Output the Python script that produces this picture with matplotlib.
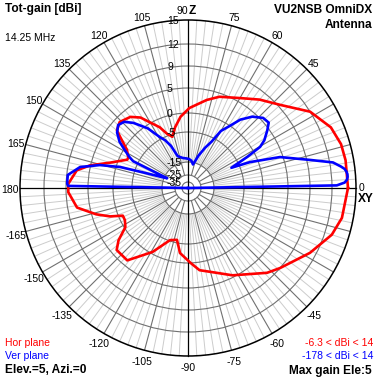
import numpy as np
import matplotlib.pyplot as plt
from matplotlib.patches import Circle

plt.rcParams['font.family'] = ['Liberation Sans', 'DejaVu Sans']

# chart scale: ring value (dBi) -> radius in px
ring_db = [-35, -25, -15, -5, 0, 5, 9, 12, 15]
ring_r = [6, 13, 26, 56, 75, 100, 122, 144, 168]

# horizontal plane (azimuth, deg) and gain (dBi)
hor_ang = [0, 10, 16, 23, 32, 42, 51, 60, 71, 78, 89, 96, 102, 107, 111, 115,
           124, 129, 136, 141, 143, 148, 153, 155, 162, 167, 171, 178, 182,
           190, 196, 200, 203, 207, 212, 217, 221, 230, 241, 251, 258, 263,
           272, 278, 288, 297, 313, 319, 332, 342, 349, 360]
hor_db = [14.0, 14.0, 13.9, 13.4, 12.0, 9.3, 7.5, 5.7, 4.3, 3.0, 1.0, -0.9,
          -3.4, -5.8, -4.5, -2.1, 2.0, 3.3, 4.0, 3.3, 2.0, -0.8, -2.1, -2.1,
          1.4, 5.1, 7.3, 8.6, 8.6, 7.3, 4.1, 1.6, -1.1, -1.1, -0.3, 2.4, 3.9,
          3.9, -0.5, -5.3, -6.0, -2.5, 0.0, 1.6, 2.8, 4.6, 7.9, 9.0, 11.2,
          12.9, 13.6, 14.0]

# vertical plane (elevation, deg) and gain (dBi)
ver_ang = [0, 1, 2, 3, 4, 5, 6, 7, 8, 10, 13, 18.6, 22.7, 25, 27.7, 29.7, 32,
           36, 39, 43, 48, 52.6, 56, 60, 63, 67, 72, 78, 83, 88, 93, 100, 108,
           112, 115.6, 118.8, 124, 130, 134, 138, 142, 146, 149, 152, 154, 155,
           157.8, 160.8, 162.8, 165.4, 169, 173.8, 176, 178, 179, 180]
ver_db = [-178, 12.6, 13.6, 13.9, 14.0, 14.0, 13.9, 13.7, 13.3, 12.4, 9.4, 4.4,
          -2.1, -7.7, -2.1, 1.6, 3.0, 4.6, 5.7, 5.5, 4.2, 2.2, 0.0, -2.4, -6.3,
          -9.1, -12.3, -16.5, -14.5, -14.0, -13.8, -13.5, -12.5, -8.5, -6.0,
          -4.5, -0.8, 2.0, 3.4, 3.8, 3.0, 1.5, -0.3, -2.2, -3.7, -17.3, -13.7,
          -8.0, -1.1, 3.2, 6.8, 8.8, 8.8, 8.8, 8.6, -178]

angle_ticks = [105, 120, 135, 150, 165, 180, -165, -150, -135, -120, -105,
               -90, -75, -60, -45, 45, 60, 75]


def rad(db):
    return np.interp(db, [-45] + ring_db, [0] + ring_r)


def xy(ang, db):
    r = rad(np.asarray(db, dtype=float))
    t = np.radians(ang)
    return r * np.cos(t), r * np.sin(t)


fig = plt.figure(figsize=(3.77, 3.77), dpi=100)
ax = fig.add_axes([0, 0, 1, 1])
ax.set_xlim(-188, 189)
ax.set_ylim(-189, 188)
ax.set_aspect('equal')
ax.axis('off')

R = rad(15)
# spokes
for d in range(0, 360, 3):
    if d % 90 == 0:
        continue
    t = np.radians(d)
    if d % 15 == 0:
        r0, c, w = rad(-25), '#707070', 0.8
    else:
        r0, c, w = rad(-15), '#cccccc', 0.7
    ax.plot([r0 * np.cos(t), R * np.cos(t)], [r0 * np.sin(t), R * np.sin(t)],
            color=c, lw=w, zorder=1)
# rings
for v in ring_db[:-1]:
    ax.add_patch(Circle((0, 0), rad(v), fill=False, ec='#707070', lw=0.8, zorder=2))
ax.add_patch(Circle((0, 0), R, fill=False, ec='black', lw=1.1, zorder=3))
ax.plot([-R, R], [0, 0], color='black', lw=0.9, zorder=3)
ax.plot([0, 0], [-R, R], color='black', lw=0.9, zorder=3)

# ring labels
for v in ring_db:
    dy = 0 if v == -25 else -1
    ax.text(-21, rad(v) + dy, str(v), ha='left', va='center', fontsize=7.5, zorder=6)

# angle labels
for a in angle_ticks:
    t = np.radians(a)
    ax.text(178 * np.cos(t), 178 * np.sin(t) - 2, str(a), ha='center', va='center',
            fontsize=7.5, zorder=6)
ax.text(0, 177, '90', ha='right', va='center', fontsize=7.5)
ax.text(1, 177.5, 'Z', ha='left', va='center', fontsize=8.6, fontweight='bold')
ax.text(171, 0, '0', ha='left', va='center', fontsize=7.5)
ax.text(170, -11, 'XY', ha='left', va='center', fontsize=8.6, fontweight='bold')

# patterns
hx, hy = xy(hor_ang, hor_db)
ax.plot(hx, hy, color='#ff0000', lw=1.9, zorder=4)
vx, vy = xy(ver_ang, ver_db)
ax.plot(vx, vy, color='#0000ff', lw=1.9, zorder=5)

# texts
b = dict(fontsize=8.6, fontweight='bold', va='baseline')
n = dict(fontsize=7.5, va='baseline')
ax.text(-183, 176, 'Tot-gain [dBi]', ha='left', **b)
ax.text(-183, 147, '14.25 MHz', ha='left', **n)
ax.text(184, 175, 'VU2NSB OmniDX', ha='right', **b)
ax.text(184, 160, 'Antenna', ha='right', **b)
ax.text(-183, -158, 'Hor plane', ha='left', color='#ff0000', **n)
ax.text(-183, -171, 'Ver plane', ha='left', color='#0000ff', **n)
ax.text(-183, -185, 'Elev.=5, Azi.=0', ha='left', **b)
ax.text(185, -158, '-6.3 < dBi < 14', ha='right', color='#ff0000', **n)
ax.text(185, -171, '-178 < dBi < 14', ha='right', color='#0000ff', **n)
ax.text(184, -186, 'Max gain Ele:5', ha='right', **b)

fig.savefig('out.png', dpi=100)
